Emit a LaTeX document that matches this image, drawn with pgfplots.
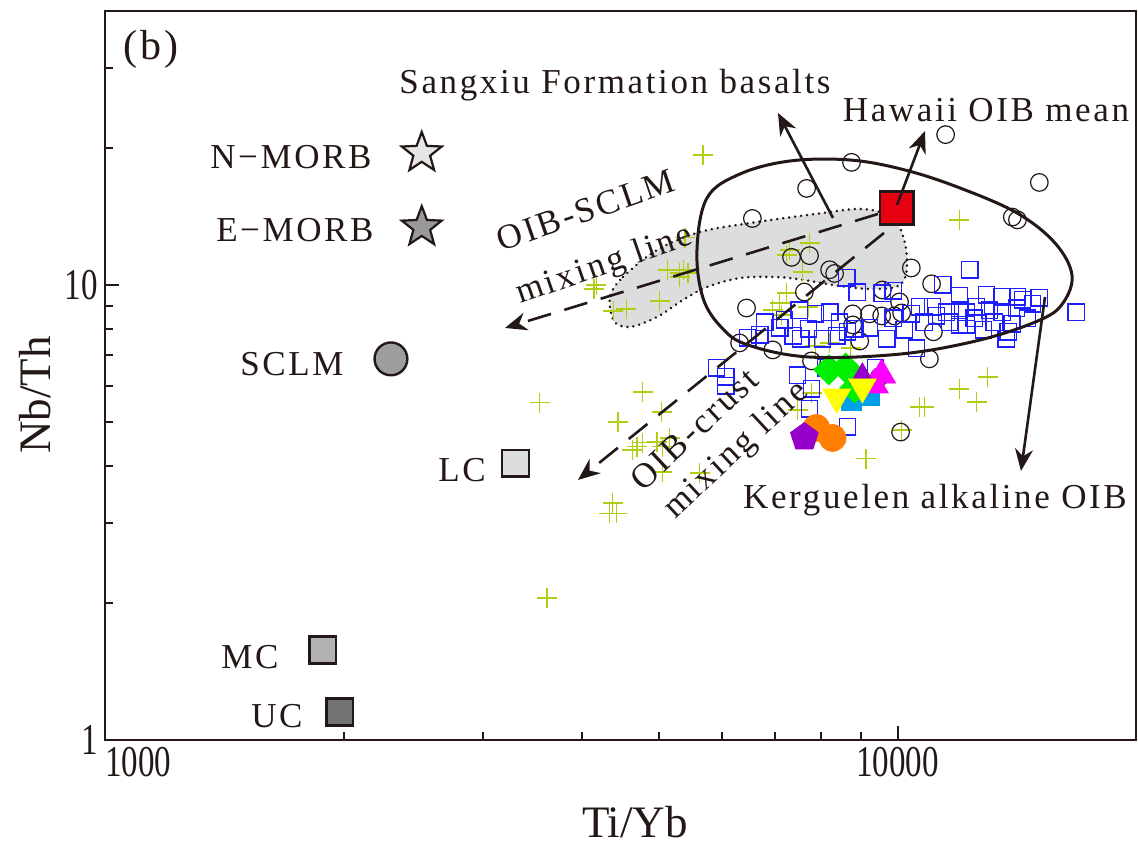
\documentclass[border=0pt]{standalone}
\usepackage{fontspec}
\setmainfont{Liberation Serif}
\newfontfamily\tickfont{Liberation Serif}[FakeStretch=0.75]
\newfontfamily\annfont{Liberation Serif}[LetterSpace=7.5]
\usepackage{pgfplots}
\pgfplotsset{compat=1.18}
\usetikzlibrary{plotmarks,arrows.meta}
\definecolor{ink}{RGB}{35,24,21}
\definecolor{crossc}{RGB}{181,204,20}
\definecolor{sqblue}{RGB}{30,30,255}
\definecolor{fieldgray}{RGB}{220,221,221}
\definecolor{hawred}{RGB}{230,0,18}
\definecolor{sgreen}{RGB}{0,240,0}
\definecolor{smag}{RGB}{255,0,255}
\definecolor{spurple}{RGB}{150,0,200}
\definecolor{syellow}{RGB}{255,255,0}
\definecolor{scyan}{RGB}{0,160,233}
\definecolor{sorange}{RGB}{255,128,0}
\pgfdeclareplotmark{fstar}{%
 \pgfpathmoveto{\pgfpointpolar{90}{\pgfplotmarksize}}%
 \pgfpathlineto{\pgfpointpolar{126}{0.42\pgfplotmarksize}}%
 \pgfpathlineto{\pgfpointpolar{162}{\pgfplotmarksize}}%
 \pgfpathlineto{\pgfpointpolar{198}{0.42\pgfplotmarksize}}%
 \pgfpathlineto{\pgfpointpolar{234}{\pgfplotmarksize}}%
 \pgfpathlineto{\pgfpointpolar{270}{0.42\pgfplotmarksize}}%
 \pgfpathlineto{\pgfpointpolar{306}{\pgfplotmarksize}}%
 \pgfpathlineto{\pgfpointpolar{342}{0.42\pgfplotmarksize}}%
 \pgfpathlineto{\pgfpointpolar{18}{\pgfplotmarksize}}%
 \pgfpathlineto{\pgfpointpolar{54}{0.42\pgfplotmarksize}}%
 \pgfpathclose
 \pgfusepathqfillstroke}
\tikzset{px/.style={x=0.5bp,y=-0.5bp,shift={(-52.5bp,370bp)}},
  ann/.style={font=\annfont\fontsize{17.5bp}{20bp}\selectfont, text=ink, inner sep=0pt},
  arr/.style={ink, line width=1.3bp, -{Stealth[length=11bp,width=9bp]}}}
\def\grayfield{(610,297) (623,277) (657,250) (700,232) (757,222) (823,213) (857,209) (880,212) (897,223) (905,243) (907,263) (905,278) (896,287) (870,289) (840,286) (797,279) (773,277) (740,278) (707,287) (683,300) (657,317) (630,327) (614,321)}
\begin{document}
\begin{tikzpicture}
\useasboundingbox (-52.5bp,-52.5bp) rectangle (516.5bp,370bp);
\begin{scope}[px]
\fill[fieldgray] plot[smooth cycle, tension=0.55] coordinates {\grayfield};
\draw[ink, line width=1.4bp, line cap=round, dash pattern=on 0.01bp off 3bp] plot[smooth cycle, tension=0.55] coordinates {\grayfield};
\end{scope}
\begin{axis}[at={(0,0)}, anchor=south west,
 scale only axis, width=515.5bp, height=364.5bp,
 xmode=log, ymode=log, xmin=1000, xmax=20000, ymin=1, ymax=40,
 axis line style={line width=1.25bp, ink},
 tick style={line width=1bp, ink},
 major tick length=7bp, minor tick length=4bp,
 tick align=inside, tick pos=left,
 xtick={1000,10000}, xticklabels={\makebox[0pt][l]{1000},10000},
 ytick={1,10}, yticklabels={1,10},
 minor xtick={2000,3000,4000,5000,6000,7000,8000,9000},
 minor ytick={2,3,4,5,6,7,8,9,20,30},
 ticklabel style={font=\tickfont\fontsize{22bp}{24bp}\selectfont, text=ink},
 xlabel={Ti/Yb}, ylabel={Nb/Th},
 label style={font=\fontsize{22.5bp}{26bp}\selectfont, text=ink},
 xlabel style={at={(axis description cs:0.514,-0.1125)}, anchor=center},
 ylabel style={at={(axis description cs:-0.068,0.473)}, anchor=center},
]
% other OIB data (crosses)
\addplot[only marks, mark=+, mark size=5bp, draw=crossc, mark options={line width=0.7bp}] coordinates {
(5680,19.3) (11970,13.9) (5390,12.7) (4170,10.0) (5130,10.79) (5310,10.63) (5370,10.79) (5440,10.63) (5310,10.42) (4550,8.86) (5010,9.22) (4380,8.77) (7310,11.94) (7745,12.37) (7245,11.64) (7590,10.68) (7245,9.60) (7100,9.13) (6960,8.81) (7140,8.59) (7720,8.95) (4140,9.80) (7880,7.34) (8210,7.46) (8730,7.27) (7790,5.79) (3535,5.51) (4770,5.82) (5040,5.26) (4440,5.00) (4690,4.41) (4770,4.50) (4630,4.34) (4970,4.52) (5160,4.61) (5050,4.41) (5050,3.88) (5630,3.86) (4370,3.32) (4330,3.15) (4420,3.15) (3610,2.05) (9130,4.15) (11970,5.91) (12990,6.28) (12580,5.53) (10660,5.39) (10810,5.39) (10120,4.80) (7480,5.31)};
% open circles
\addplot[only marks, mark=o, mark size=4.4bp, draw=ink, mark options={line width=0.6bp}] coordinates {
(11500,21.4) (8750,18.6) (7680,16.3) (15100,16.8) (13960,14.1) (14170,13.9) (6560,14.0) (7350,11.5) (7745,11.6) (8210,10.8) (8330,10.6) (10410,10.9) (11040,10.06) (7630,9.65) (6450,8.9) (9570,9.75) (10060,9.18) (8780,8.64) (9220,8.64) (9550,8.55) (9910,8.55) (10120,8.68) (8780,8.17) (11100,7.89) (6960,7.2) (7790,6.81) (8960,7.53) (10970,6.88) (9490,6.28) (10090,4.75) (6320,7.46)};
% Kerguelen alkaline OIB (blue squares)
\addplot[only marks, mark=square, mark size=4.1bp, draw=sqblue, mark options={line width=0.7bp}] coordinates {
(12330,10.79) (11400,10.0) (8630,10.36) (8900,9.65) (9570,9.60) (9880,9.70) (12950,9.51) (13560,9.41) (14170,9.41) (14380,9.27) (16800,8.72) (7520,8.81) (8210,8.72) (10660,8.95) (11070,8.95) (11530,8.72) (11970,8.81) (12580,8.95) (13060,8.81) (13560,8.72) (14130,8.90) (14590,8.46) (12220,8.72) (12220,8.17) (11200,8.55) (10410,8.64) (9880,8.46) (12840,7.97) (13800,7.89) (13720,7.61) (11970,8.17) (7880,8.64) (7720,8.01) (7390,7.73) (7550,7.61) (8040,7.61) (8380,7.73) (8650,7.89) (8830,8.01) (9690,7.61) (10570,7.27) (6470,7.65) (5910,6.57) (6070,6.28) (6070,6.00) (7480,6.34) (7790,5.91) (7745,5.34) (8650,4.88) (9380,6.57) (8110,6.57) (7100,8.05) (7200,8.38) (8450,8.29) (9220,8.05) (10200,7.97) (10810,8.29) (11630,8.29) (12500,8.46) (13250,8.29) (13960,8.21) (14800,9.09) (11970,9.46) (15100,9.37) (6800,8.29) (6700,7.77)};
% Sangxiu Formation basalts
\addplot[only marks, mark=square*, mark size=5bp, color=scyan] coordinates {(8750,5.59) (9220,5.73)};
\addplot[only marks, mark=square*, mark size=5.3bp, color=sgreen, mark options={rotate=45}] coordinates {(8190,6.51) (8600,6.57) (8830,5.94)};
\addplot[only marks, mark=triangle*, mark size=8bp, color=smag] coordinates {(9550,6.34) (9350,6.03)};
\addplot[only marks, mark=triangle*, mark size=7bp, color=spurple] coordinates {(9030,6.28)};
\addplot[only marks, mark=triangle*, mark size=8bp, color=syellow, mark options={rotate=180}] coordinates {(8380,5.67) (9030,5.97)};
\addplot[only marks, mark=*, mark size=6.7bp, color=sorange] coordinates {(7900,4.85) (8280,4.61)};
\addplot[only marks, mark=pentagon*, mark size=7.3bp, color=spurple] coordinates {(7630,4.63)};
% reference compositions
\addplot[only marks, mark=fstar, mark size=10.5bp, mark options={draw=ink, fill=black!10, line width=1.1bp}] coordinates {(2510,19.5)};
\addplot[only marks, mark=fstar, mark size=10.5bp, mark options={draw=ink, fill=black!40, line width=1.1bp}] coordinates {(2510,13.4)};
\addplot[only marks, mark=*, mark size=8.2bp, mark options={draw=ink, fill=black!38, line width=1.2bp}] coordinates {(2295,6.88)};
\addplot[only marks, mark=square*, mark size=6.7bp, mark options={draw=ink, fill=fieldgray, line width=1.2bp}] coordinates {(3297,4.06)};
\addplot[only marks, mark=square*, mark size=6.7bp, mark options={draw=ink, fill=black!30, line width=1.2bp}] coordinates {(1883,1.577)};
\addplot[only marks, mark=square*, mark size=6.7bp, mark options={draw=ink, fill=black!55, line width=1.2bp}] coordinates {(1979,1.152)};
\addplot[only marks, mark=square*, mark size=8.3bp, mark options={draw=ink, fill=hawred, line width=1.3bp}] coordinates {(9977,14.77)};
\end{axis}
\begin{scope}[px]
\draw[ink, line width=1.5bp] plot[smooth cycle, tension=0.6] coordinates {(697,250) (707,198) (740,174) (790,161) (850,160) (905,170) (960,188) (1017,213) (1055,243) (1072,275) (1063,303) (1040,320) (980,340) (901,354) (809,357) (748,345) (722,328) (703,298)};
\draw[arr, dash pattern=on 12bp off 7bp] (878,214) -- (505,328);
\draw[arr, dash pattern=on 12bp off 7bp] (884,233) -- (578,480);
\draw[arr] (833,218) -- (778,113);
\draw[arr] (897,205) -- (925,131);
\draw[arr] (1045,297) -- (1021,471);
\node[ann, font=\annfont\fontsize{21bp}{24bp}\selectfont] at (151,49) {(b)};
\node[ann, anchor=east] at (372,157) {N−MORB};
\node[ann, anchor=east] at (374,230) {E−MORB};
\node[ann] at (292,364) {SCLM};
\node[ann] at (462,470) {LC};
\node[ann] at (250,657) {MC};
\node[ann] at (277,716) {UC};
\node[ann] at (615,85) {Sangxiu Formation basalts};
\node[ann] at (986,110) {Hawaii OIB mean};
\node[ann] at (935,500) {Kerguelen alkaline OIB};
\node[ann, rotate=19, align=center, font=\annfont\fontsize{17.5bp}{28bp}\selectfont] at (596,240) {OIB-SCLM\\mixing line};
\node[ann, rotate=43, align=center, font=\annfont\fontsize{17.5bp}{21bp}\selectfont] at (711,447) {OIB-crust\\\hspace*{16bp}mixing line};
\end{scope}
\end{tikzpicture}
\end{document}
